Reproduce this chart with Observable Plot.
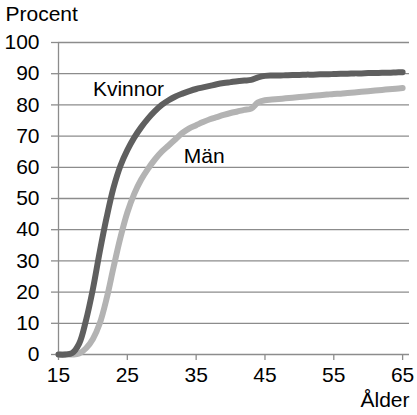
<!DOCTYPE html>
<html>
<head>
<meta charset="utf-8">
<script src="https://cdn.jsdelivr.net/npm/d3@7"></script>
<script src="https://cdn.jsdelivr.net/npm/@observablehq/plot@0.6"></script>
<style>
  html, body { margin: 0; padding: 0; background: #fff; }
  #chart svg { display: block; font-family: "Liberation Sans", Arial, sans-serif; }
</style>
</head>
<body>
<div id="chart"></div>
<script>
const ages = d3.range(15, 66);
const kvinnor = [0, 0, 0.5, 3.5, 11, 21, 33, 44, 53.5, 60.5, 65.5, 69.5, 72.8, 75.6, 78, 80, 81.5, 82.7, 83.6, 84.4,
  85.1, 85.6, 86.1, 86.6, 87, 87.3, 87.6, 87.8, 88, 88.8, 89.3, 89.4, 89.4, 89.5, 89.6, 89.6, 89.7, 89.7, 89.8, 89.8,
  89.9, 90, 90, 90.1, 90.1, 90.2, 90.2, 90.3, 90.3, 90.4, 90.5];
const man = [0, 0, 0, 0.3, 2, 5, 10, 18, 28, 37.5, 45.5, 51.5, 56, 59.5, 62.5, 65, 67, 69, 71, 72.5,
  73.5, 74.5, 75.4, 76.1, 76.8, 77.4, 77.9, 78.4, 78.8, 80.8, 81.5, 81.7, 81.9, 82.1, 82.3, 82.5, 82.7, 82.9, 83.1, 83.3,
  83.5, 83.6, 83.8, 84, 84.2, 84.4, 84.6, 84.8, 85, 85.2, 85.4];
const xTicks = [15, 25, 35, 45, 55, 65];
const yTicks = [0, 10, 20, 30, 40, 50, 60, 70, 80, 90, 100];
const seriesLabels = [
  {name: "Kvinnor", x: 20, y: 83},
  {name: "Män", x: 33.2, y: 61.5}
];

const dataK = ages.map((a, i) => ({age: a, v: kvinnor[i]}));
const dataM = ages.map((a, i) => ({age: a, v: man[i]}));

const gridColor = "#8c8c8c";
const fs = 21;
const chart = Plot.plot({
  width: 417,
  height: 415,
  marginTop: 42,
  marginBottom: 61,
  marginLeft: 58,
  marginRight: 8,
  style: {fontFamily: "'Liberation Sans', Arial, sans-serif", fontSize: fs + "px", color: "#000", background: "#fff"},
  x: {domain: [15, 66]},
  y: {domain: [0, 100]},
  marks: [
    Plot.gridY(yTicks, {stroke: gridColor, strokeOpacity: 1, strokeWidth: 1.3}),
    Plot.ruleX([15], {stroke: gridColor, strokeWidth: 1.3}),
    Plot.axisY(yTicks, {tickSize: 7, tickPadding: 12, stroke: gridColor, strokeWidth: 1.3, fill: "#000", fontSize: fs, label: null}),
    Plot.axisX(xTicks, {tickSize: 6, tickPadding: 7, stroke: gridColor, strokeWidth: 1.3, fill: "#000", fontSize: fs, label: null}),
    Plot.line(dataM, {x: "age", y: "v", stroke: "#b3b3b3", strokeWidth: 6, curve: "catmull-rom"}),
    Plot.line(dataK, {x: "age", y: "v", stroke: "#5f5f5f", strokeWidth: 6, curve: "catmull-rom"}),
    Plot.text(seriesLabels, {x: "x", y: "y", text: "name", textAnchor: "start", lineAnchor: "bottom", fontSize: fs, fill: "#000"}),
    Plot.text(["Procent"], {frameAnchor: "top-left", dx: -53, dy: -36, textAnchor: "start", lineAnchor: "top", fontSize: fs, fill: "#000"}),
    Plot.text(["Ålder"], {frameAnchor: "bottom-right", dx: 0, dy: 38, textAnchor: "end", lineAnchor: "top", fontSize: fs, fill: "#000"})
  ]
});
document.getElementById("chart").appendChild(chart);
</script>
</body>
</html>
